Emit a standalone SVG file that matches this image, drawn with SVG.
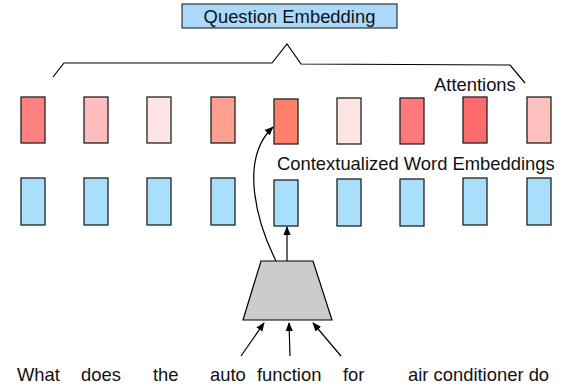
<svg xmlns="http://www.w3.org/2000/svg" width="568" height="389" viewBox="0 0 568 389">
<defs>
<marker id="ah" viewBox="0 0 10 10" refX="9" refY="5" markerWidth="9" markerHeight="9" markerUnits="userSpaceOnUse" orient="auto"><path d="M0,1 L10,5 L0,9 z" fill="#000"/></marker>
</defs>
<style>
text{font-family:"Liberation Sans",Arial,sans-serif;font-size:18.4px;fill:#111}
.att{stroke:#222;stroke-width:1.3}
.emb{fill:#a8e0fc;stroke:#222;stroke-width:1.3}
.ln{fill:none;stroke:#000;stroke-width:1.2}
</style>
<g id="question-embedding">
<rect x="182" y="4" width="215" height="24" fill="#aad9fb" stroke="#333" stroke-width="1.2"/>
<text x="289.5" y="23" text-anchor="middle">Question Embedding</text>
</g>
<g id="attentions-label"><text x="434" y="91">Attentions</text></g>
<g id="cwe-label"><text x="277" y="170">Contextualized Word Embeddings</text></g>
<g id="attentions">
<rect class="att" x="21" y="97" width="24" height="46" fill="#ff8080"/>
<rect class="att" x="84" y="97" width="24" height="46" fill="#ffbcbc"/>
<rect class="att" x="147" y="97" width="24" height="46" fill="#ffe4e6"/>
<rect class="att" x="211" y="97" width="24" height="46" fill="#ff9f8f"/>
<rect class="att" x="274" y="99" width="24" height="45" fill="#ff8068"/>
<rect class="att" x="337" y="98" width="24" height="46" fill="#ffe4e4"/>
<rect class="att" x="400" y="98" width="24" height="46" fill="#ff7a7a"/>
<rect class="att" x="463" y="97" width="24" height="46" fill="#ff6b6b"/>
<rect class="att" x="527" y="97" width="24" height="46" fill="#ffc0c0"/>
</g>
<g id="embeddings">
<rect class="emb" x="21" y="178" width="24" height="47"/>
<rect class="emb" x="84" y="178" width="24" height="47"/>
<rect class="emb" x="147" y="178" width="24" height="47"/>
<rect class="emb" x="211" y="178" width="24" height="47"/>
<rect class="emb" x="274" y="180" width="24" height="46"/>
<rect class="emb" x="337" y="179" width="24" height="47"/>
<rect class="emb" x="400" y="179" width="24" height="47"/>
<rect class="emb" x="463" y="178" width="24" height="47"/>
<rect class="emb" x="527" y="178" width="24" height="47"/>
</g>
<g id="encoder">
<polygon points="261,261 313,261 332,320 243,320" fill="#cccccc" stroke="#000" stroke-width="1.2"/>
</g>
<g id="words">
<text x="17" y="381">What</text>
<text x="81" y="381">does</text>
<text x="153" y="381">the</text>
<text x="210" y="381">auto</text>
<text x="257" y="381">function</text>
<text x="343" y="381">for</text>
<text x="408" y="381">air conditioner do</text>
</g>
<g id="connectors">
<polyline class="ln" points="53,77 64,63 272,63 287,44 301,64 510,65 525,83"/>
<path class="ln" d="M276,261 C258,225 238,160 273,127" marker-end="url(#ah)"/>
<line class="ln" x1="287" y1="261" x2="287" y2="227" marker-end="url(#ah)"/>
<line class="ln" x1="241" y1="356" x2="264" y2="323" marker-end="url(#ah)"/>
<line class="ln" x1="290" y1="356" x2="289" y2="323" marker-end="url(#ah)"/>
<line class="ln" x1="341" y1="356" x2="313" y2="323" marker-end="url(#ah)"/>
</g>
</svg>
